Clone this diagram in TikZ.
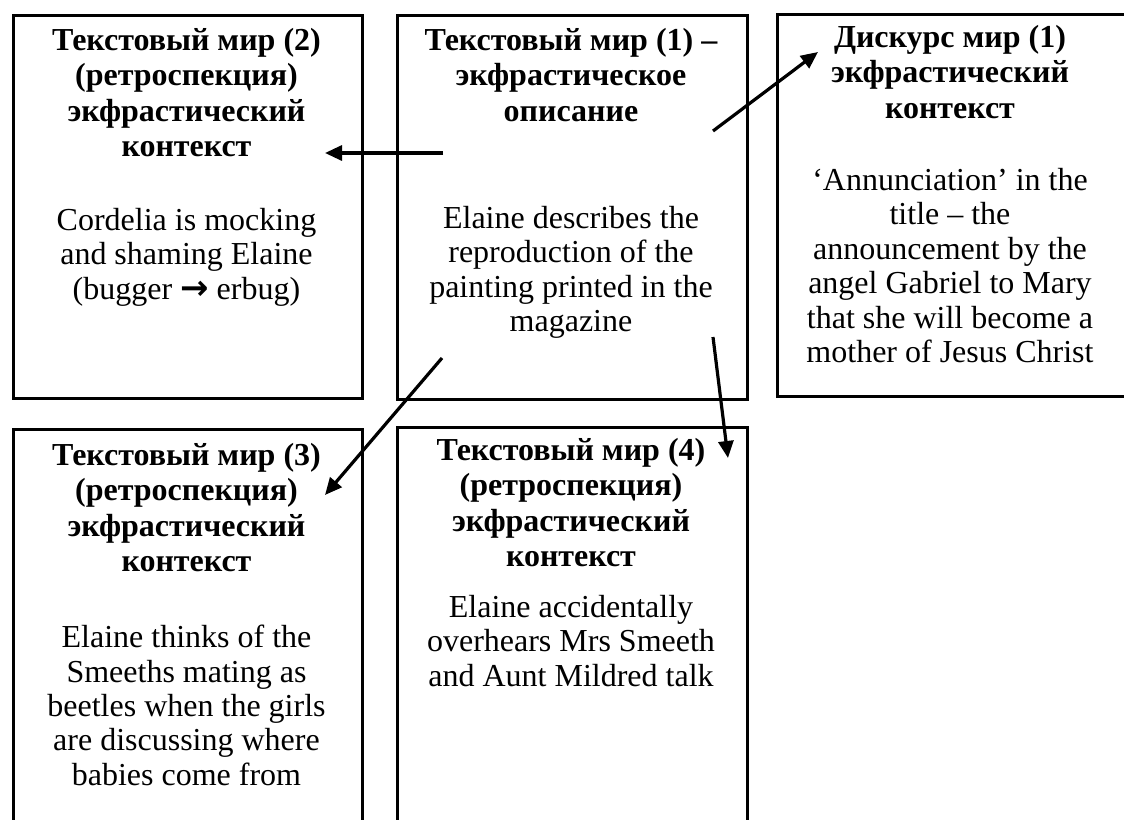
\documentclass[tikz,border=0pt]{standalone}
\usepackage{fontspec}
\setmainfont{Liberation Serif}
\newfontfamily\arrowfont{DejaVu Sans}
\usetikzlibrary{arrows.meta}
\begin{document}
\begin{tikzpicture}[x=1pt,y=-1pt,
  frame/.style={draw=black, line width=3.2pt, rectangle, inner sep=0pt, anchor=north west},
  head/.style={anchor=north, inner sep=0pt, align=center, font=\bfseries\fontsize{32}{35.5}\selectfont},
  body/.style={anchor=north, inner sep=0pt, align=center, font=\fontsize{32}{34.4}\selectfont},
  link/.style={line width=3.2pt, -{Triangle[length=17pt,width=15pt]}}]
\useasboundingbox (0,0) rectangle (1124,819);

% frames of the five worlds
\node[frame, minimum width=349pt, minimum height=383pt] (boxA) at (12,14) {};
\node[frame, minimum width=350pt, minimum height=384pt] (boxB) at (396,14) {};
\node[frame, minimum width=354pt, minimum height=382pt] (boxC) at (776,13) {};
\node[frame, minimum width=349pt, minimum height=402pt] (boxD) at (12,428) {};
\node[frame, minimum width=350pt, minimum height=404pt] (boxE) at (396,426) {};

% text world 2
\node[head] (aHead) at (186.5,28) {Текстовый мир (2)\\(ретроспекция)\\экфрастический\\контекст};
\node[body] (aBody) at (186.5,208) {Cordelia is mocking\\and shaming Elaine\\(bugger {\arrowfont\bfseries\fontsize{34}{34}\selectfont →} erbug)};

% text world 1
\node[head] (bHead) at (571,28) {Текстовый мир (1) –\\экфрастическое\\описание};
\node[body] (bBody) at (571,206) {Elaine describes the\\reproduction of the\\painting printed in the\\magazine};

% discourse world 1
\node[head] (cHead) at (950,25) {Дискурс мир (1)\\экфрастический\\контекст};
\node[body] (cBody) at (950,168) {‘Annunciation’ in the\\title – the\\announcement by the\\angel Gabriel to Mary\\that she will become a\\mother of Jesus Christ};

% text world 3
\node[head] (dHead) at (186.5,443) {Текстовый мир (3)\\(ретроспекция)\\экфрастический\\контекст};
\node[body] (dBody) at (186.5,625) {Elaine thinks of the\\Smeeths mating as\\beetles when the girls\\are discussing where\\babies come from};

% text world 4
\node[head] (eHead) at (571,438) {Текстовый мир (4)\\(ретроспекция)\\экфрастический\\контекст};
\node[body] (eBody) at (571,595) {Elaine accidentally\\overhears Mrs Smeeth\\and Aunt Mildred talk};

% arrows leading out of text world 1
\coordinate (toA0) at (443,153);
\coordinate (toA1) at (325,153);
\coordinate (toC0) at (713,131);
\coordinate (toC1) at (818,52);
\coordinate (toD0) at (442,358);
\coordinate (toD1) at (325,495);
\coordinate (toE0) at (713,337);
\coordinate (toE1) at (728,458);
\draw[link] (toA0) -- (toA1);
\draw[link] (toC0) -- (toC1);
\draw[link] (toD0) -- (toD1);
\draw[link] (toE0) -- (toE1);
\end{tikzpicture}
\end{document}
